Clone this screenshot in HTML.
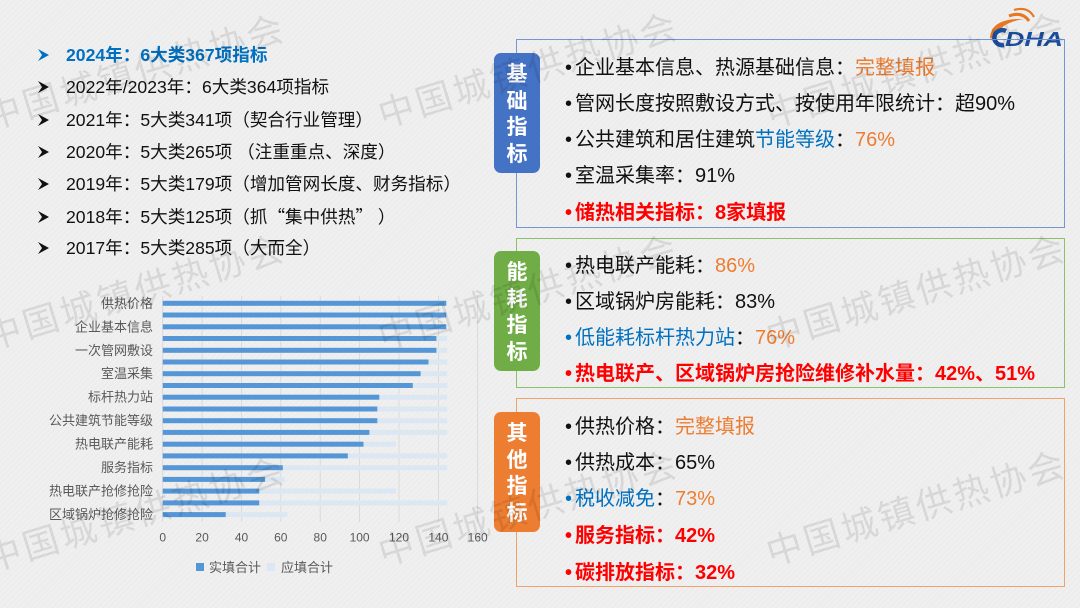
<!DOCTYPE html>
<html><head><meta charset="utf-8">
<style>
*{margin:0;padding:0;box-sizing:border-box}
html,body{width:1080px;height:608px;overflow:hidden}
body{position:relative;background:#ededed;
background-image:repeating-linear-gradient(135deg,rgba(255,255,255,0.25) 0 1px,rgba(0,0,0,0) 1px 4px);
font-family:"Liberation Sans","Noto Sans CJK SC",sans-serif;color:#111}
.li{position:absolute;left:37px;height:24px;line-height:24px;font-size:17.6px;white-space:nowrap}
.li svg{display:inline-block;width:29px;height:24px;vertical-align:top}
.box{position:absolute;left:516px;width:549px;border:1.5px solid}
.tab{position:absolute;left:494px;width:46px;height:120px;border-radius:7px;color:#fff;font-weight:bold;font-size:21px;
display:flex;flex-direction:column;align-items:center;justify-content:center;line-height:26.5px;font-family:"Noto Sans CJK SC",sans-serif}
.t{position:absolute;left:563px;height:28px;line-height:28px;font-size:20px;white-space:nowrap}
.t .b{display:inline-block;width:12px;padding-left:2px}
.o{color:#ed7d31}.bl{color:#0070c0}.r{color:#ff0000;font-weight:bold}
.cj{font-family:"Noto Sans CJK SC",sans-serif}
</style></head><body>

<!-- left list -->
<div class="li" style="top:43px;color:#0070c0;font-weight:bold"><svg viewBox="0 0 29 24"><path d="M1,6 L12,12 L1,18 L5,12 Z" fill="#0070c0"/></svg>2024年：6大类367项指标</div>
<div class="li" style="top:75px"><svg viewBox="0 0 29 24"><path d="M1,6 L12,12 L1,18 L5,12 Z" fill="#111"/></svg>2022年/2023年：6大类364项指标</div>
<div class="li" style="top:108px"><svg viewBox="0 0 29 24"><path d="M1,6 L12,12 L1,18 L5,12 Z" fill="#111"/></svg>2021年：5大类341项（契合行业管理）</div>
<div class="li" style="top:140px"><svg viewBox="0 0 29 24"><path d="M1,6 L12,12 L1,18 L5,12 Z" fill="#111"/></svg>2020年：5大类265项 （注重重点、深度）</div>
<div class="li" style="top:172px"><svg viewBox="0 0 29 24"><path d="M1,6 L12,12 L1,18 L5,12 Z" fill="#111"/></svg>2019年：5大类179项（增加管网长度、财务指标）</div>
<div class="li" style="top:205px"><svg viewBox="0 0 29 24"><path d="M1,6 L12,12 L1,18 L5,12 Z" fill="#111"/></svg>2018年：5大类125项（抓<span class="cj">“</span>集中供热<span class="cj">”</span> ）</div>
<div class="li" style="top:236px"><svg viewBox="0 0 29 24"><path d="M1,6 L12,12 L1,18 L5,12 Z" fill="#111"/></svg>2017年：5大类285项（大而全）</div>

<!-- chart -->
<svg style="position:absolute;left:0;top:0" width="1080" height="608" xmlns="http://www.w3.org/2000/svg">
<g stroke="#d6d6d6" stroke-width="0.8">
<line x1="162.7" y1="296" x2="162.7" y2="522"/><line x1="202.1" y1="296" x2="202.1" y2="522"/>
<line x1="241.5" y1="296" x2="241.5" y2="522"/><line x1="280.8" y1="296" x2="280.8" y2="522"/>
<line x1="320.2" y1="296" x2="320.2" y2="522"/><line x1="359.6" y1="296" x2="359.6" y2="522"/>
<line x1="399" y1="296" x2="399" y2="522"/><line x1="438.4" y1="296" x2="438.4" y2="522"/>
<line x1="477.7" y1="296" x2="477.7" y2="522"/>
</g>
<g fill="#dce7f4">
<rect x="162.7" y="300.8" width="284.5" height="5"/>
<rect x="162.7" y="312.5" width="284.5" height="5"/>
<rect x="162.7" y="324.3" width="284.5" height="5"/>
<rect x="162.7" y="336" width="284.5" height="5"/>
<rect x="162.7" y="347.8" width="284.5" height="5"/>
<rect x="162.7" y="359.5" width="284.5" height="5"/>
<rect x="162.7" y="371.2" width="284.5" height="5"/>
<rect x="162.7" y="383" width="284.5" height="5"/>
<rect x="162.7" y="394.7" width="284.5" height="5"/>
<rect x="162.7" y="406.5" width="284.5" height="5"/>
<rect x="162.7" y="418.2" width="284.5" height="5"/>
<rect x="162.7" y="429.9" width="284.5" height="5"/>
<rect x="162.7" y="441.7" width="233.3" height="5"/>
<rect x="162.7" y="453.4" width="284.5" height="5"/>
<rect x="162.7" y="465.2" width="284.5" height="5"/>
<rect x="162.7" y="476.9" width="122" height="5"/>
<rect x="162.7" y="488.6" width="233.3" height="5"/>
<rect x="162.7" y="500.4" width="284.5" height="5"/>
<rect x="162.7" y="512.1" width="124.6" height="5"/>
</g>
<g fill="#5597d6">
<rect x="162.7" y="300.8" width="283.5" height="5"/>
<rect x="162.7" y="312.5" width="283.5" height="5"/>
<rect x="162.7" y="324.3" width="283.5" height="5"/>
<rect x="162.7" y="336" width="273.7" height="5"/>
<rect x="162.7" y="347.8" width="273.7" height="5"/>
<rect x="162.7" y="359.5" width="265.8" height="5"/>
<rect x="162.7" y="371.2" width="257.9" height="5"/>
<rect x="162.7" y="383" width="250.1" height="5"/>
<rect x="162.7" y="394.7" width="216.6" height="5"/>
<rect x="162.7" y="406.5" width="214.6" height="5"/>
<rect x="162.7" y="418.2" width="214.6" height="5"/>
<rect x="162.7" y="429.9" width="206.7" height="5"/>
<rect x="162.7" y="441.7" width="200.8" height="5"/>
<rect x="162.7" y="453.4" width="185.1" height="5"/>
<rect x="162.7" y="465.2" width="120.1" height="5"/>
<rect x="162.7" y="476.9" width="102.4" height="5"/>
<rect x="162.7" y="488.6" width="96.5" height="5"/>
<rect x="162.7" y="500.4" width="96.5" height="5"/>
<rect x="162.7" y="512.1" width="63" height="5"/>
</g>
<g fill="#595959" font-size="13" text-anchor="end" font-family="'Noto Sans CJK SC',sans-serif">
<text x="153" y="307.8">供热价格</text>
<text x="153" y="331.3">企业基本信息</text>
<text x="153" y="354.8">一次管网敷设</text>
<text x="153" y="378.2">室温采集</text>
<text x="153" y="401.7">标杆热力站</text>
<text x="153" y="425.2">公共建筑节能等级</text>
<text x="153" y="448.7">热电联产能耗</text>
<text x="153" y="472.2">服务指标</text>
<text x="153" y="495.6">热电联产抢修抢险</text>
<text x="153" y="519.1">区域锅炉抢修抢险</text>
</g>
<g fill="#595959" font-size="12" text-anchor="middle" font-family="'Liberation Sans',sans-serif">
<text x="162.7" y="541.5">0</text><text x="202.1" y="541.5">20</text><text x="241.5" y="541.5">40</text>
<text x="280.8" y="541.5">60</text><text x="320.2" y="541.5">80</text><text x="359.6" y="541.5">100</text>
<text x="399" y="541.5">120</text><text x="438.4" y="541.5">140</text><text x="477.7" y="541.5">160</text>
</g>
<rect x="196" y="563" width="8" height="8" fill="#5597d6"/>
<text x="209" y="572" font-size="13" fill="#595959" font-family="'Noto Sans CJK SC',sans-serif">实填合计</text>
<rect x="267" y="563" width="8" height="8" fill="#dce7f4"/>
<text x="281" y="572" font-size="13" fill="#595959" font-family="'Noto Sans CJK SC',sans-serif">应填合计</text>

<!-- logo -->
<path d="M990,38 Q991,18 1024,19 Q998,23 996,39 Z" fill="#e87722"/>
<path d="M1009,16 Q1022,11 1029,21" stroke="#e87722" stroke-width="3" fill="none"/>
<path d="M1014,10 Q1028,6 1034,17" stroke="#e87722" stroke-width="2.2" fill="none"/>
<path d="M1006,31 A8,7.5 0 1 0 1004,45" stroke="#1b4f9f" stroke-width="4.5" fill="none"/>
<text x="1005" y="46" font-size="20" font-weight="bold" font-style="italic" fill="#1b4f9f" font-family="'Liberation Sans',sans-serif" textLength="58" lengthAdjust="spacingAndGlyphs">DHA</text>
</svg>

<!-- boxes -->
<div class="box" style="top:39px;height:189px;border-color:#7596d3"></div>
<div class="box" style="top:238px;height:150px;border-color:#8dc06b"></div>
<div class="box" style="top:398px;height:189px;border-color:#f1a26a"></div>

<div class="tab" style="top:53px;background:#4472c4"><span>基</span><span>础</span><span>指</span><span>标</span></div>
<div class="tab" style="top:251px;background:#70ad47"><span>能</span><span>耗</span><span>指</span><span>标</span></div>
<div class="tab" style="top:412px;background:#ed7d31"><span>其</span><span>他</span><span>指</span><span>标</span></div>

<div class="t" style="top:54px"><span class="b">•</span>企业基本信息、热源基础信息：<span class="o">完整填报</span></div>
<div class="t" style="top:90px"><span class="b">•</span>管网长度按照敷设方式、按使用年限统计：超90%</div>
<div class="t" style="top:126px"><span class="b">•</span>公共建筑和居住建筑<span class="bl">节能等级</span>：<span class="o">76%</span></div>
<div class="t" style="top:162px"><span class="b">•</span>室温采集率：91%</div>
<div class="t r" style="top:199px"><span class="b">•</span>储热相关指标：8家填报</div>

<div class="t" style="top:252px"><span class="b">•</span>热电联产能耗：<span class="o">86%</span></div>
<div class="t" style="top:288px"><span class="b">•</span>区域锅炉房能耗：83%</div>
<div class="t bl" style="top:324px"><span class="b">•</span>低能耗标杆热力站<span style="color:#111">：</span><span class="o">76%</span></div>
<div class="t r" style="top:360px"><span class="b">•</span>热电联产、区域锅炉房抢险维修补水量：42%、51%</div>

<div class="t" style="top:413px"><span class="b">•</span>供热价格：<span class="o">完整填报</span></div>
<div class="t" style="top:449px"><span class="b">•</span>供热成本：65%</div>
<div class="t" style="top:485px"><span class="b bl">•</span><span class="bl">税收减免</span>：<span class="o">73%</span></div>
<div class="t r" style="top:522px"><span class="b">•</span>服务指标：42%</div>
<div class="t r" style="top:559px"><span class="b">•</span>碳排放指标：32%</div>

<!-- watermark -->
<svg style="position:absolute;left:0;top:0;pointer-events:none" width="1080" height="608" xmlns="http://www.w3.org/2000/svg">
<g fill="rgba(0,0,0,0.095)" font-size="36" letter-spacing="3" font-family="'Noto Sans CJK SC',sans-serif">
<text x="-10" y="130" transform="rotate(-17 -10 130)">中国城镇供热协会</text>
<text x="383" y="128" transform="rotate(-17 383 128)">中国城镇供热协会</text>
<text x="771" y="128" transform="rotate(-17 771 128)">中国城镇供热协会</text>
<text x="-10" y="350" transform="rotate(-17 -10 350)">中国城镇供热协会</text>
<text x="383" y="350" transform="rotate(-17 383 350)">中国城镇供热协会</text>
<text x="771" y="350" transform="rotate(-17 771 350)">中国城镇供热协会</text>
<text x="-10" y="572" transform="rotate(-17 -10 572)">中国城镇供热协会</text>
<text x="383" y="566" transform="rotate(-17 383 566)">中国城镇供热协会</text>
<text x="771" y="566" transform="rotate(-17 771 566)">中国城镇供热协会</text>
</g>
</svg>
</body></html>
